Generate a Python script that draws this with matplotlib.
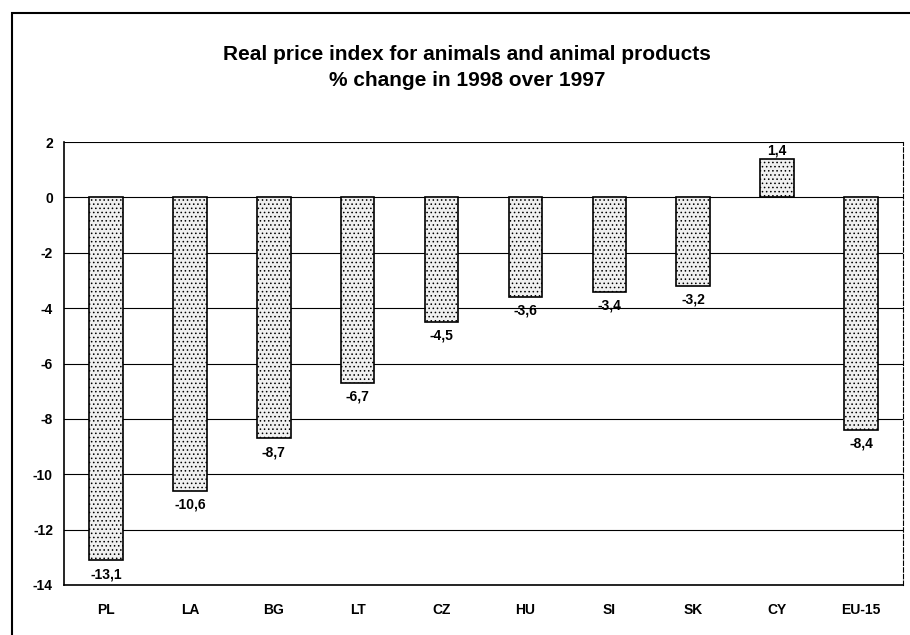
import matplotlib.pyplot as plt
from matplotlib.patches import Rectangle

plt.rcParams['font.family'] = ['Liberation Sans', 'DejaVu Sans']
plt.rcParams['hatch.color'] = '#8a8a8a'
plt.rcParams['hatch.linewidth'] = 0.6

# Data
countries = ['PL', 'LA', 'BG', 'LT', 'CZ', 'HU', 'SI', 'SK', 'CY', 'EU-15']
changes = [-13.1, -10.6, -8.7, -6.7, -4.5, -3.6, -3.4, -3.2, 1.4, -8.4]
yticks = [2, 0, -2, -4, -6, -8, -10, -12, -14]

fig = plt.figure(figsize=(9.1, 6.35), dpi=100)

# outer frame of the chart
fig.patches.append(Rectangle((12 / 910, -0.01), 1.02 - 12 / 910, 1 - 13 / 635 + 0.01,
                             transform=fig.transFigure, fill=False,
                             edgecolor='black', linewidth=1.5))

ax = fig.add_axes([64 / 910, 1 - 585 / 635, (903 - 64) / 910, (585 - 142) / 635])

x = range(len(countries))
ax.bar(x, changes, width=0.4, color='#f0f0f0', edgecolor='black',
       linewidth=1.2, hatch='....', zorder=3)

# value labels
for i, v in enumerate(changes):
    label = f'{v:.1f}'.replace('.', ',')
    if v < 0:
        ax.text(i, v - 0.25, label, ha='center', va='top', fontsize=10, fontweight='bold')
    else:
        ax.text(i, v + 0.05, label, ha='center', va='bottom', fontsize=10, fontweight='bold')

ax.set_ylim(-14, 2)
ax.set_xlim(-0.5, len(countries) - 0.5)
ax.set_yticks(yticks)
ax.set_yticklabels([str(t) for t in yticks], fontsize=10, fontweight='bold')
ax.set_xticks(list(x))
ax.set_xticklabels(countries, fontsize=10, fontweight='bold')
ax.tick_params(axis='x', length=0, pad=13)
ax.tick_params(axis='y', length=0, pad=8)

ax.grid(axis='y', color='black', linewidth=0.8, zorder=0)
ax.spines['top'].set_visible(False)
ax.spines['right'].set_linestyle((0, (4, 2)))
ax.spines['right'].set_linewidth(0.8)
ax.spines['left'].set_linewidth(1.2)
ax.spines['bottom'].set_linewidth(1.2)

fig.text(467 / 910, 1 - 54 / 635, 'Real price index for animals and animal products',
         ha='center', va='center', fontsize=15, fontweight='bold')
fig.text(467 / 910, 1 - 80 / 635, '% change in 1998 over 1997',
         ha='center', va='center', fontsize=15, fontweight='bold')

fig.savefig('out.png', dpi=100)
